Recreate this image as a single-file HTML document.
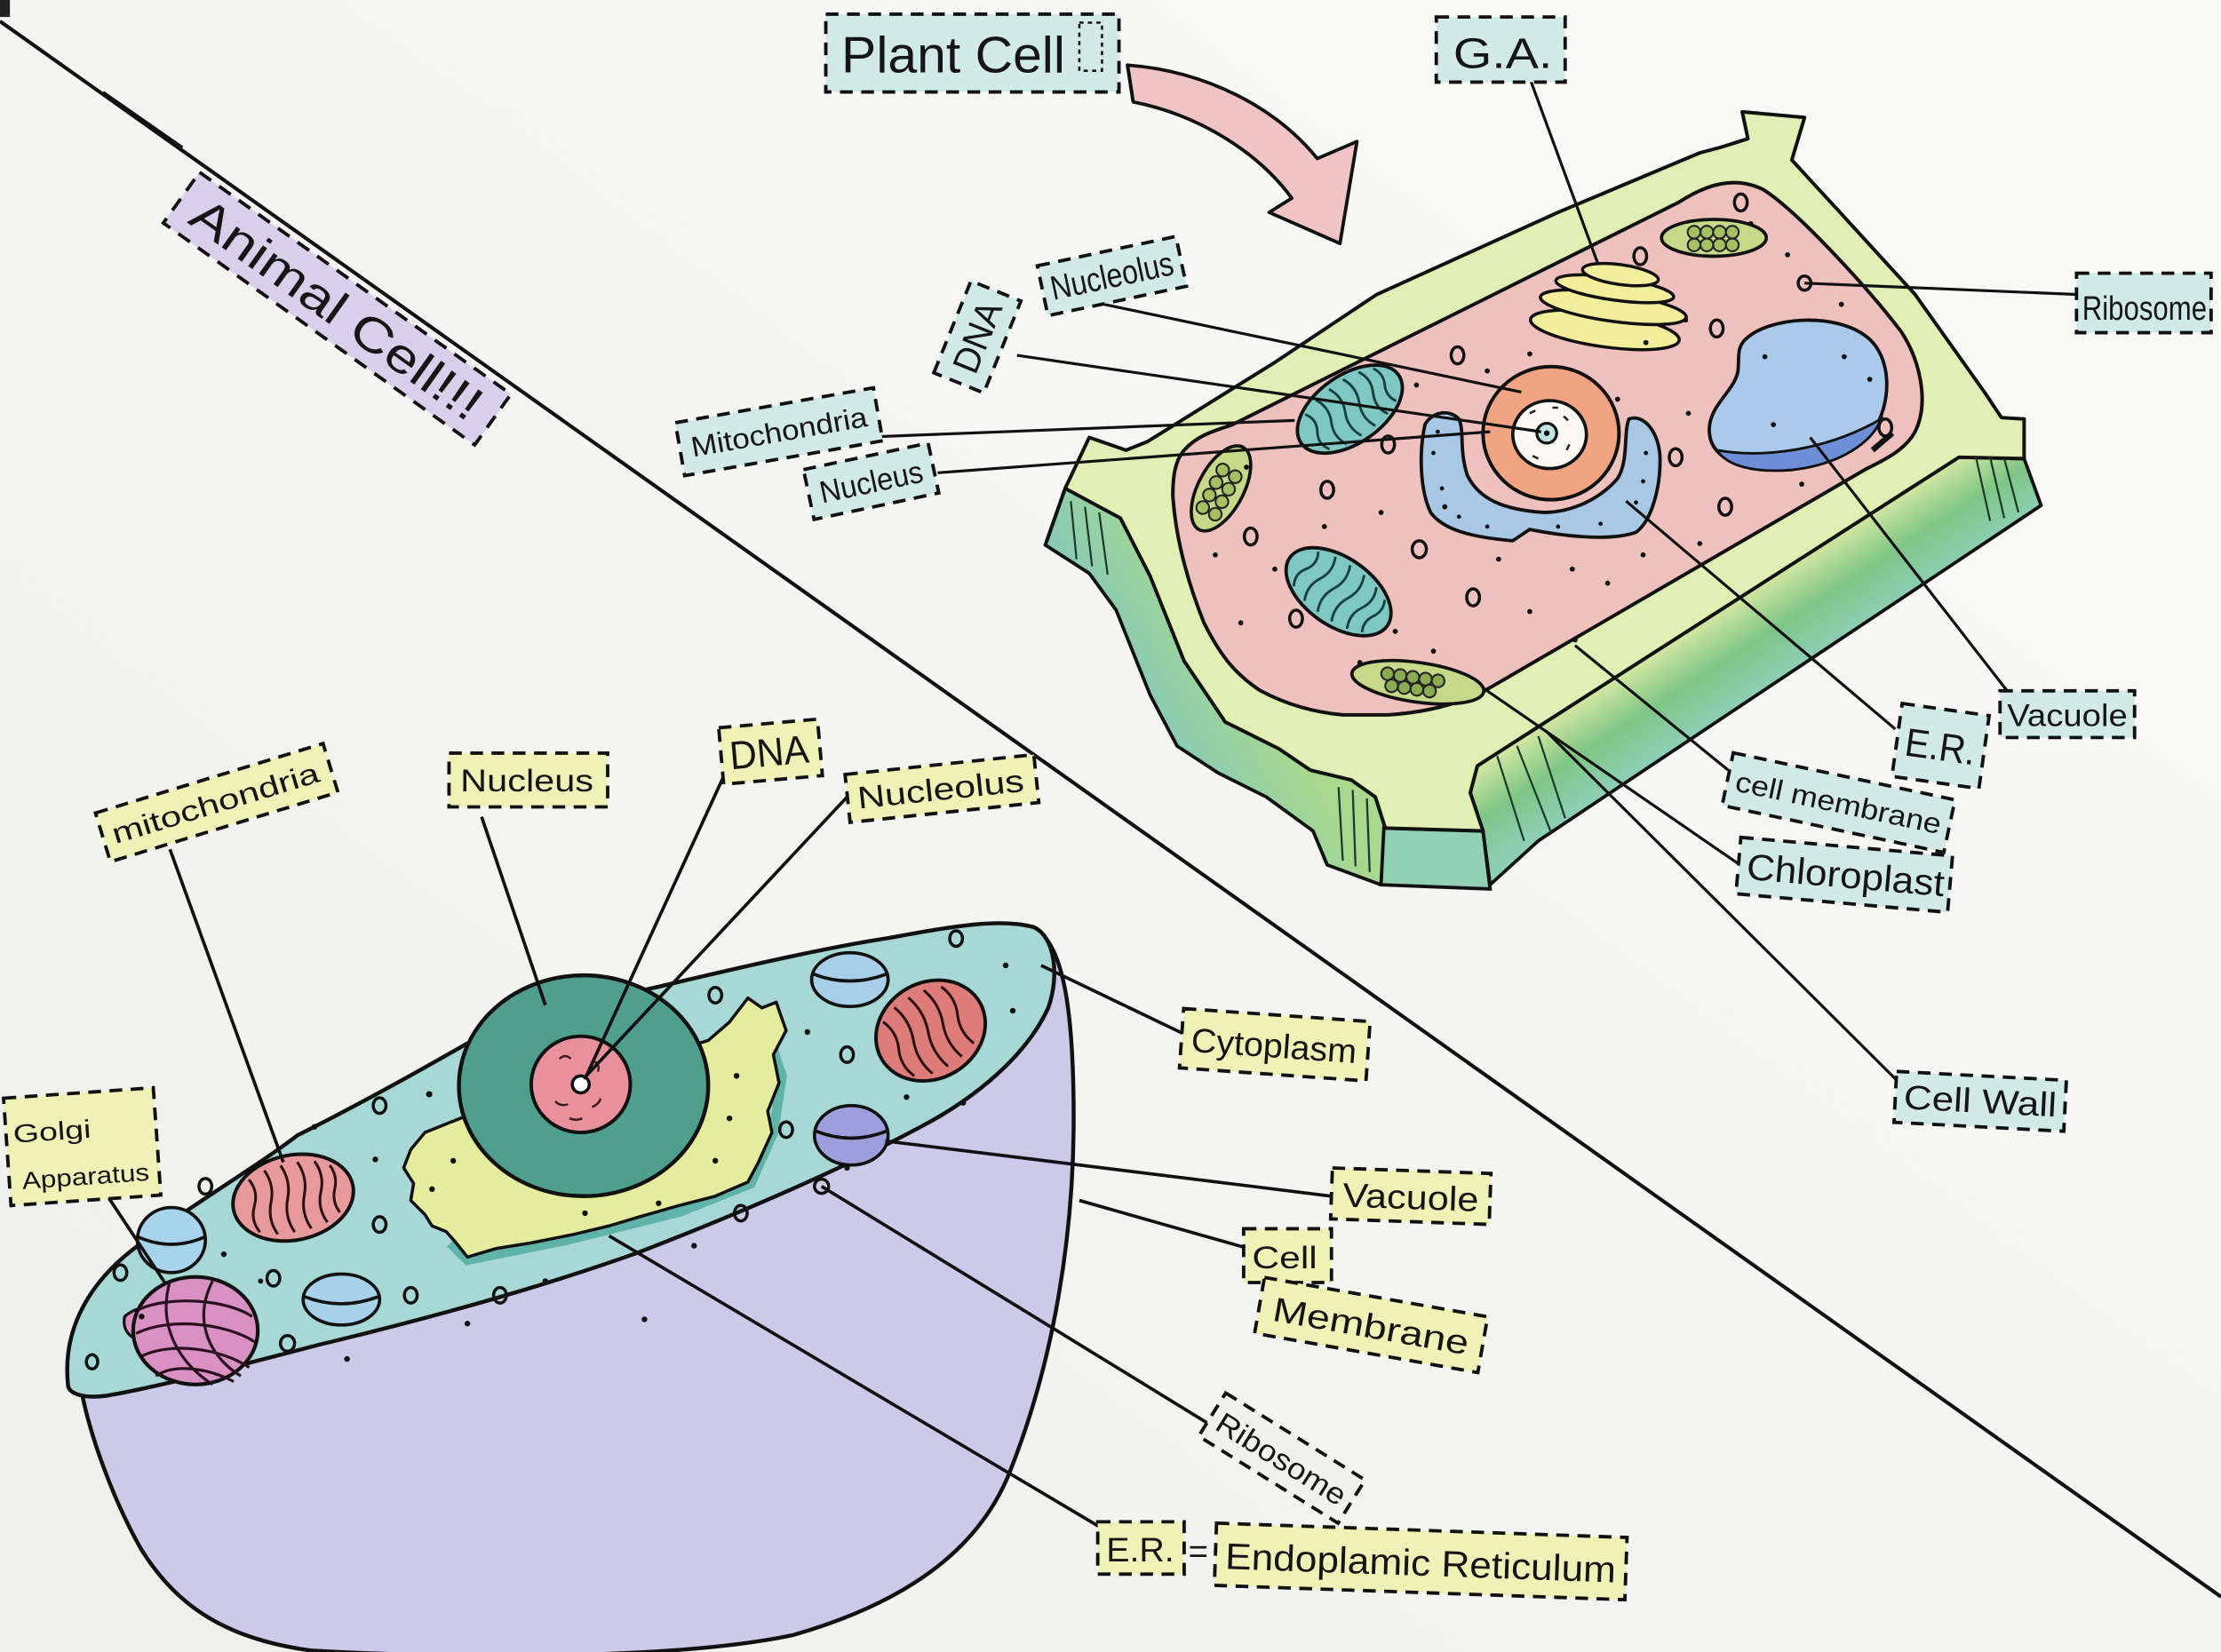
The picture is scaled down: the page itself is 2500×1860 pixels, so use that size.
<!DOCTYPE html>
<html><head><meta charset="utf-8"><style>
html,body{margin:0;padding:0;background:#f4f4f2;}
svg{display:block;}
text{font-family:"Liberation Sans","DejaVu Sans",sans-serif;fill:#151515;}
</style></head><body>
<svg width="2500" height="1860" viewBox="0 0 1568 1167" preserveAspectRatio="none" xmlns="http://www.w3.org/2000/svg">
<defs>
<linearGradient id="bg" x1="1" y1="0" x2="0" y2="1">
<stop offset="0" stop-color="#fafaf9"/><stop offset="1" stop-color="#efefec"/>
</linearGradient>
<linearGradient id="rf" gradientUnits="userSpaceOnUse" x1="1220" y1="427" x2="1255" y2="481">
<stop offset="0" stop-color="#d3e8a2"/><stop offset="0.5" stop-color="#7fc585"/><stop offset="1" stop-color="#8dcfb5"/>
</linearGradient>
<linearGradient id="lf" gradientUnits="userSpaceOnUse" x1="760" y1="420" x2="830" y2="380">
<stop offset="0" stop-color="#86c9b6"/><stop offset="1" stop-color="#a9d98f"/>
</linearGradient>
</defs>
<rect width="1568" height="1167" fill="url(#bg)"/>
<rect x="0" y="0" width="7" height="12" fill="#222"/>

<!-- diagonal divider -->
<line x1="0" y1="15" x2="1568" y2="1128" stroke="#111" stroke-width="2.6"/>
<line x1="73" y1="65" x2="129" y2="104" stroke="#111" stroke-width="1.6"/>

<!-- ================= PLANT CELL ================= -->
<path d="M 796,46 C 850,50 900,75 930,112 L 958,100 L 946,172 L 896,150 L 912,140 C 890,110 850,82 800,72 Z" fill="#f0c4c4" stroke="#111" stroke-width="2.4" stroke-linejoin="round"/>
<path d="M 796,46 L 800,72" stroke="#111" stroke-width="2.4"/>

<!-- left front face -->
<polygon points="752,345 791,366 812,407 836,467 865,510 903,529 925,544 954,551 971,563 978,585 975,625 937,611 927,587 894,563 860,546 831,527 812,491 788,431 769,405 738,385" fill="url(#lf)" stroke="#111" stroke-width="2.4" stroke-linejoin="round"/>
<!-- bottom box -->
<polygon points="977,585 1047,587 1052,628 975,625" fill="#92d0b4" stroke="#111" stroke-width="2.4"/>
<!-- right front face -->
<polygon points="1043,541 1057,532 1383,323 1429,324 1441,357 1086,594 1052,625 1047,587 1038,560" fill="url(#rf)" stroke="#111" stroke-width="2.4" stroke-linejoin="round"/>
<!-- top face -->
<path d="M 769,309 L 795,318 L 810,312 L 900,256 L 972,208 L 1100,150 L 1200,108 L 1215,104 L 1234,98 L 1230,79 L 1274,83 L 1265,113 L 1299,150 L 1352,208 L 1401,277 L 1413,295 L 1429,296 L 1429,324 L 1383,323 L 1057,532 L 1043,541 L 1038,560 L 1047,587 L 978,585 L 971,563 L 954,551 L 925,544 L 903,529 L 865,510 L 836,467 L 812,407 L 791,366 L 752,345 L 738,385 L 752,345 Z" fill="#e1eeb4" stroke="#111" stroke-width="2.5" stroke-linejoin="round"/>
<!-- stripes -->
<g stroke="#1a3a2a" stroke-width="1.4">
<line x1="1395" y1="323" x2="1405" y2="368"/><line x1="1405" y1="323" x2="1415" y2="366"/><line x1="1415" y1="324" x2="1425" y2="362"/>
<line x1="756" y1="354" x2="760" y2="395"/><line x1="766" y1="358" x2="771" y2="400"/><line x1="776" y1="362" x2="782" y2="406"/>
<line x1="945" y1="556" x2="948" y2="608"/><line x1="955" y1="558" x2="957" y2="612"/><line x1="965" y1="564" x2="967" y2="616"/>
<line x1="1057" y1="534" x2="1076" y2="594"/><line x1="1071" y1="527" x2="1095" y2="588"/><line x1="1086" y1="520" x2="1105" y2="578"/>
</g>

<!-- pink cytoplasm -->
<path d="M 836,318 C 845,308 855,305 870,300 L 1185,143 C 1205,130 1225,124 1245,134 C 1270,150 1320,205 1342,234 C 1356,255 1362,285 1352,305 C 1345,318 1330,325 1318,331 L 1055,484 C 1035,496 1010,503 980,505 L 948,505 C 925,503 905,496 890,488 C 870,475 860,460 850,440 C 838,410 830,380 828,350 C 828,335 830,325 836,318 Z" fill="#efc1be" stroke="#111" stroke-width="2.5"/>

<!-- golgi -->
<g fill="#f2ee9c" stroke="#111" stroke-width="2.2">
<ellipse cx="1133" cy="233" rx="53" ry="12" transform="rotate(8 1133 233)"/>
<ellipse cx="1139" cy="217" rx="52" ry="10" transform="rotate(8 1139 217)"/>
<ellipse cx="1140" cy="204" rx="42" ry="8" transform="rotate(8 1140 204)"/>
<ellipse cx="1144" cy="194" rx="27" ry="7" transform="rotate(8 1144 194)"/>
</g>

<!-- chloroplasts -->
<g transform="translate(1210,168)"><ellipse rx="37" ry="13" fill="#c6d98a" stroke="#111" stroke-width="2.3"/>
<g fill="#a4c062" stroke="#222" stroke-width="1.3"><circle cx="-14" cy="-4" r="4.5"/><circle cx="-5" cy="-4" r="4.5"/><circle cx="4" cy="-4" r="4.5"/><circle cx="13" cy="-4" r="4.5"/><circle cx="-14" cy="5" r="4.5"/><circle cx="-5" cy="5" r="4.5"/><circle cx="4" cy="5" r="4.5"/><circle cx="13" cy="5" r="4.5"/></g></g>
<g transform="translate(862,345) rotate(-62)"><ellipse rx="33" ry="16" fill="#c6d98a" stroke="#111" stroke-width="2.3"/>
<g fill="#a4c062" stroke="#222" stroke-width="1.3"><circle cx="-18" cy="-5" r="4.5"/><circle cx="-8" cy="-5" r="4.5"/><circle cx="2" cy="-5" r="4.5"/><circle cx="12" cy="-5" r="4.5"/><circle cx="-18" cy="5" r="4.5"/><circle cx="-8" cy="5" r="4.5"/><circle cx="2" cy="5" r="4.5"/><circle cx="12" cy="5" r="4.5"/></g></g>
<g transform="translate(1001,482) rotate(8)"><ellipse rx="47" ry="14" fill="#c6d98a" stroke="#111" stroke-width="2.3"/>
<g fill="#8aab52" stroke="#222" stroke-width="1.3"><circle cx="-22" cy="-3" r="4.5"/><circle cx="-13" cy="-3" r="4.5"/><circle cx="-4" cy="-3" r="4.5"/><circle cx="5" cy="-3" r="4.5"/><circle cx="14" cy="-3" r="4.5"/><circle cx="-18" cy="5" r="4.5"/><circle cx="-9" cy="5" r="4.5"/><circle cx="0" cy="5" r="4.5"/><circle cx="9" cy="5" r="4.5"/></g></g>

<!-- mitochondria plant -->
<g transform="translate(953,289) rotate(-35)"><ellipse rx="42" ry="24" fill="#7fc7c3" stroke="#111" stroke-width="2.4"/>
<path d="M -28,-15 q 5,7.5 0,15 q -5,7.5 0,15 M -16,-19 q 5,9.5 0,19 q -5,9.5 0,19 M -4,-20 q 5,10 0,20 q -5,10 0,20 M 8,-20 q 5,10 0,20 q -5,10 0,20 M 20,-18 q 5,9 0,18 q -5,9 0,18 M 30,-14 q 4,7 0,14 q -4,7 0,14" fill="none" stroke="#17403d" stroke-width="1.8"/></g>
<g transform="translate(945,418) rotate(35)"><ellipse rx="42" ry="24" fill="#7fc7c3" stroke="#111" stroke-width="2.4"/>
<path d="M -28,-15 q 5,7.5 0,15 q -5,7.5 0,15 M -16,-19 q 5,9.5 0,19 q -5,9.5 0,19 M -4,-20 q 5,10 0,20 q -5,10 0,20 M 8,-20 q 5,10 0,20 q -5,10 0,20 M 20,-18 q 5,9 0,18 q -5,9 0,18 M 30,-14 q 4,7 0,14 q -4,7 0,14" fill="none" stroke="#17403d" stroke-width="1.8"/></g>

<!-- vacuole plant -->
<path d="M 1232,240 C 1248,224 1295,220 1318,238 C 1336,252 1336,285 1322,305 C 1305,325 1270,332 1240,330 C 1215,328 1205,315 1207,300 C 1209,285 1225,275 1227,262 C 1228,252 1226,246 1232,240 Z" fill="#abc9ea" stroke="#111" stroke-width="2.4"/>
<path d="M 1212,318 C 1245,324 1290,318 1328,296 C 1322,312 1300,328 1265,332 C 1240,334 1220,330 1212,318 Z" fill="#6d8fd8" stroke="#111" stroke-width="1.8"/>
<line x1="1322" y1="318" x2="1336" y2="306" stroke="#111" stroke-width="4"/>

<!-- ER plant -->
<path d="M 1006,300 C 1010,292 1022,288 1030,296 C 1034,305 1030,318 1036,336 C 1044,352 1060,360 1090,362 C 1110,362 1130,352 1142,338 C 1150,325 1146,306 1150,296 C 1160,292 1172,305 1172,325 C 1172,345 1166,368 1155,376 C 1135,383 1100,378 1080,374 L 1068,382 C 1045,380 1020,376 1010,362 C 1002,345 1002,318 1006,300 Z" fill="#a9c8e5" stroke="#111" stroke-width="2.4"/>
<g fill="#111"><circle cx="1012" cy="320" r="1.5"/><circle cx="1018" cy="345" r="1.5"/><circle cx="1030" cy="365" r="1.5"/><circle cx="1050" cy="372" r="1.5"/><circle cx="1100" cy="372" r="1.5"/><circle cx="1130" cy="370" r="1.5"/><circle cx="1155" cy="355" r="1.5"/><circle cx="1162" cy="320" r="1.5"/><circle cx="1160" cy="340" r="1.5"/><circle cx="1015" cy="305" r="1.5"/></g>

<!-- nucleus plant -->
<ellipse cx="1095" cy="306" rx="48" ry="47" fill="#f0a482" stroke="#111" stroke-width="2.5"/>
<ellipse cx="1094" cy="307" rx="26" ry="24" fill="#fbfaf2" stroke="#111" stroke-width="2.3"/>
<path d="M 1080,292 l 4,-2 M 1104,294 l 3,3 M 1082,322 l 4,2 M 1106,318 l 2,-4 M 1096,288 l 4,0" stroke="#222" stroke-width="1.6"/>
<circle cx="1092" cy="306" r="7" fill="#bfe3e0" stroke="#111" stroke-width="2"/>
<circle cx="1092" cy="306" r="2" fill="#111"/>

<!-- plant circles and dots -->
<g fill="none" stroke="#111" stroke-width="2.2">
<ellipse cx="1229" cy="143" rx="4.5" ry="6"/><ellipse cx="1158" cy="181" rx="4.5" ry="6"/><ellipse cx="1029" cy="251" rx="4.5" ry="6"/><ellipse cx="1212" cy="232" rx="4.5" ry="6"/><ellipse cx="937" cy="346" rx="4.5" ry="6"/><ellipse cx="980" cy="314" rx="4.5" ry="6"/><ellipse cx="883" cy="379" rx="4.5" ry="6"/><ellipse cx="1002" cy="388" rx="5" ry="6"/><ellipse cx="1040" cy="422" rx="4.5" ry="6"/><ellipse cx="915" cy="437" rx="4.5" ry="6"/><ellipse cx="1183" cy="323" rx="4.5" ry="6"/><ellipse cx="1218" cy="358" rx="4.5" ry="6"/><ellipse cx="1331" cy="302" rx="4.5" ry="6"/><ellipse cx="1274" cy="200" rx="4.5" ry="5"/>
</g>
<g fill="#111">
<circle cx="1236" cy="158" r="1.8"/><circle cx="1262" cy="180" r="1.8"/><circle cx="1190" cy="226" r="1.8"/><circle cx="1162" cy="242" r="1.8"/><circle cx="1246" cy="252" r="1.8"/><circle cx="1300" cy="215" r="1.8"/><circle cx="1320" cy="268" r="1.8"/><circle cx="1050" cy="262" r="1.8"/><circle cx="1080" cy="250" r="1.8"/><circle cx="1000" cy="272" r="1.8"/><circle cx="880" cy="330" r="1.8"/><circle cx="858" cy="392" r="1.8"/><circle cx="900" cy="402" r="1.8"/><circle cx="975" cy="362" r="1.8"/><circle cx="1020" cy="358" r="1.8"/><circle cx="985" cy="446" r="1.8"/><circle cx="1080" cy="432" r="1.8"/><circle cx="1110" cy="402" r="1.8"/><circle cx="1135" cy="412" r="1.8"/><circle cx="1160" cy="392" r="1.8"/><circle cx="1200" cy="384" r="1.8"/><circle cx="1252" cy="300" r="1.8"/><circle cx="1272" cy="342" r="1.8"/><circle cx="960" cy="468" r="1.8"/><circle cx="1012" cy="460" r="1.8"/><circle cx="876" cy="440" r="1.8"/><circle cx="1112" cy="452" r="1.8"/><circle cx="1142" cy="282" r="1.8"/><circle cx="1192" cy="292" r="1.8"/><circle cx="1302" cy="252" r="1.8"/><circle cx="1058" cy="395" r="1.8"/><circle cx="935" cy="372" r="1.8"/>
</g>

<!-- plant leaders -->
<g stroke="#111" stroke-width="2" fill="none">
<line x1="1077" y1="47" x2="1128" y2="186"/>
<line x1="1274" y1="200" x2="1466" y2="208"/>
<line x1="770" y1="213" x2="1074" y2="277"/>
<line x1="718" y1="251" x2="1088" y2="305"/>
<line x1="554" y1="311" x2="914" y2="297"/>
<line x1="662" y1="334" x2="1052" y2="305"/>
<line x1="1148" y1="354" x2="1338" y2="515"/>
<line x1="1278" y1="309" x2="1417" y2="488"/>
<line x1="1112" y1="456" x2="1220" y2="544"/>
<line x1="1047" y1="486" x2="1227" y2="610"/>
<line x1="1091" y1="516" x2="1342" y2="766"/>
</g>

<!-- plant labels -->
<g stroke="#111" stroke-width="2.4" stroke-dasharray="9 6">
<rect x="583" y="10" width="207" height="55" fill="#d2eae6"/>
<rect x="1014" y="12" width="91" height="46" fill="#d2eae6"/>
<rect x="1466" y="193" width="95" height="42" fill="#d2eae6"/>
<rect x="1412" y="488" width="95" height="33" fill="#d2eae6"/>
</g>
<rect x="762" y="16" width="16" height="34" fill="none" stroke="#111" stroke-width="1.6" stroke-dasharray="3 3"/>
<text x="594" y="51" font-size="36" textLength="158" lengthAdjust="spacingAndGlyphs">Plant Cell</text>
<text x="1026" y="48" font-size="30" textLength="70" lengthAdjust="spacingAndGlyphs">G.A.</text>
<text x="1470" y="226" font-size="24" textLength="88" lengthAdjust="spacingAndGlyphs">Ribosome</text>
<text x="1417" y="513" font-size="22" textLength="85" lengthAdjust="spacingAndGlyphs">Vacuole</text>

<g transform="translate(785,195) rotate(-12)"><rect x="-50" y="-18" width="100" height="36" fill="#d2eae6" stroke="#111" stroke-width="2.4" stroke-dasharray="9 6"/><text x="-44" y="8" font-size="24" textLength="88" lengthAdjust="spacingAndGlyphs">Nucleolus</text></g>
<g transform="translate(690,238) rotate(-68)"><rect x="-35" y="-19" width="70" height="38" fill="#d2eae6" stroke="#111" stroke-width="2.4" stroke-dasharray="9 6"/><text x="-26" y="9" font-size="26" textLength="52" lengthAdjust="spacingAndGlyphs">DNA</text></g>
<g transform="translate(550,305) rotate(-10)"><rect x="-71" y="-19" width="142" height="38" fill="#d2eae6" stroke="#111" stroke-width="2.4" stroke-dasharray="9 6"/><text x="-63" y="7" font-size="20" textLength="126" lengthAdjust="spacingAndGlyphs">Mitochondria</text></g>
<g transform="translate(615,340) rotate(-12)"><rect x="-45" y="-18" width="90" height="36" fill="#d2eae6" stroke="#111" stroke-width="2.4" stroke-dasharray="9 6"/><text x="-37" y="8" font-size="22" textLength="74" lengthAdjust="spacingAndGlyphs">Nucleus</text></g>
<g transform="translate(1370,527) rotate(8)"><rect x="-31" y="-26" width="62" height="52" fill="#d2eae6" stroke="#111" stroke-width="2.4" stroke-dasharray="9 6"/><text x="-25" y="10" font-size="28" textLength="50" lengthAdjust="spacingAndGlyphs">E.R.</text></g>
<g transform="translate(1298,567) rotate(12)"><rect x="-80" y="-19" width="160" height="38" fill="#d2eae6" stroke="#111" stroke-width="2.4" stroke-dasharray="9 6"/><text x="-74" y="7" font-size="20" textLength="148" lengthAdjust="spacingAndGlyphs">cell membrane</text></g>
<g transform="translate(1302,618) rotate(5)"><rect x="-75" y="-20" width="150" height="40" fill="#d2eae6" stroke="#111" stroke-width="2.4" stroke-dasharray="9 6"/><text x="-69" y="9" font-size="26" textLength="140" lengthAdjust="spacingAndGlyphs">Chloroplast</text></g>
<g transform="translate(1398,778) rotate(3)"><rect x="-60" y="-18" width="120" height="36" fill="#d2eae6" stroke="#111" stroke-width="2.4" stroke-dasharray="9 6"/><text x="-54" y="8" font-size="24" textLength="108" lengthAdjust="spacingAndGlyphs">Cell Wall</text></g>

<!-- Animal cell title -->
<g transform="translate(238,218) rotate(35.5)"><rect x="-135" y="-22" width="270" height="44" fill="#d8cfea" stroke="#111" stroke-width="2.4" stroke-dasharray="10 7"/><text x="-122" y="12" font-size="34" textLength="244" lengthAdjust="spacingAndGlyphs">Animal Cell!!!</text></g>

<!-- ================= ANIMAL CELL ================= -->
<path d="M 735,659 C 752,675 758,720 758,790 C 758,870 745,960 712,1042 C 690,1095 640,1132 560,1155 C 480,1172 330,1172 220,1166 C 160,1158 125,1135 100,1095 C 80,1060 64,1015 58,985 L 48,978 Z" fill="#cdc9e8"/>
<path d="M 735,659 C 752,675 758,720 758,790 C 758,870 745,960 712,1042 C 690,1095 640,1132 560,1155 C 480,1172 330,1172 220,1166 C 160,1158 125,1135 100,1095 C 80,1060 64,1015 58,985" fill="none" stroke="#111" stroke-width="2.8"/>
<path d="M 48,978 C 44,940 62,905 100,878 C 140,848 180,825 210,802 C 250,782 290,760 330,737 C 380,715 430,705 465,697 C 520,684 580,670 625,663 C 670,655 705,648 730,655 C 745,662 748,690 740,712 C 725,745 690,775 650,796 C 590,828 520,858 450,885 C 380,910 300,932 225,950 C 160,967 110,980 75,986 C 60,988 48,985 48,978 Z" fill="#a7d8d6" stroke="#111" stroke-width="2.8"/>

<!-- ER animal -->
<path d="M 536,712 L 552,760 L 546,800 L 530,836 L 480,856 L 400,876 L 330,890 L 318,878" fill="none" stroke="#5fb3a8" stroke-width="7"/>
<path d="M 290,812 L 300,800 L 330,788 L 420,760 L 500,735 L 515,722 L 528,705 L 538,712 L 548,708 L 555,728 L 546,745 L 550,765 L 542,785 L 545,800 L 535,822 L 528,835 L 505,845 L 478,852 L 450,860 L 430,866 L 405,872 L 375,878 L 350,882 L 330,888 L 322,878 L 315,870 L 305,866 L 300,858 L 290,848 L 292,836 L 285,825 Z" fill="#e4ec9e" stroke="#111" stroke-width="2.2" stroke-linejoin="round"/>

<!-- nucleus animal -->
<ellipse cx="412" cy="767" rx="88" ry="78" fill="#4f9f8c" stroke="#111" stroke-width="2.8"/>
<ellipse cx="410" cy="766" rx="35" ry="34" fill="#e8919d" stroke="#111" stroke-width="2.5"/>
<path d="M 395,748 q 4,-4 8,0 M 420,750 q 4,3 2,7 M 392,778 q 4,4 9,2 M 418,782 q 5,-2 6,-6 M 402,790 q 5,2 9,0" fill="none" stroke="#3a1a20" stroke-width="1.5"/>
<circle cx="410" cy="766" r="6" fill="#fff" stroke="#111" stroke-width="2.2"/>

<!-- mitochondria animal -->
<g transform="translate(207,846) rotate(-12)"><ellipse rx="43" ry="30" fill="#e8999c" stroke="#111" stroke-width="2.5"/>
<path d="M -28,-19 q 5,9.5 0,19 q -5,9.5 0,19 M -16,-23 q 5,11.5 0,23 q -5,11.5 0,23 M -4,-24 q 5,12 0,24 q -5,12 0,24 M 8,-24 q 5,12 0,24 q -5,12 0,24 M 20,-22 q 5,11 0,22 q -5,11 0,22 M 30,-17 q 4,8.5 0,17 q -4,8.5 0,17" fill="none" stroke="#2a1010" stroke-width="1.9"/></g>
<g transform="translate(657,728) rotate(-30)"><ellipse rx="40" ry="34" fill="#de7c79" stroke="#111" stroke-width="2.5"/>
<path d="M -26,-22 q 5,11 0,22 q -5,11 0,22 M -14,-27 q 5,13.5 0,27 q -5,13.5 0,27 M -2,-28 q 5,14 0,28 q -5,14 0,28 M 10,-27 q 5,13.5 0,27 q -5,13.5 0,27 M 22,-23 q 5,11.5 0,23 q -5,11.5 0,23" fill="none" stroke="#2a1010" stroke-width="1.9"/></g>

<!-- vacuoles animal -->
<g stroke="#111" stroke-width="2.3">
<g transform="translate(600,692)"><ellipse rx="27" ry="19" fill="#a7cfea"/><path d="M -26,-4 Q 0,6 26,-4" fill="none"/></g>
<g transform="translate(601,802)"><ellipse rx="26" ry="21" fill="#9d9fdc"/><path d="M -25,-3 Q 0,7 25,-3" fill="none"/></g>
<g transform="translate(121,876)"><ellipse rx="24" ry="23" fill="#a7d3ec"/><path d="M -23,-2 Q 0,8 23,-2" fill="none"/></g>
<g transform="translate(241,918)"><ellipse rx="27" ry="18" fill="#a7d0ea"/><path d="M -26,-2 Q 0,8 26,-2" fill="none"/></g>
</g>

<!-- golgi animal -->
<path d="M 88,930 C 100,920 108,925 112,930 L 100,948 C 92,945 86,940 88,930 Z" fill="#d98fc2" stroke="#111" stroke-width="2"/>
<ellipse cx="138" cy="940" rx="44" ry="38" fill="#d990c2" stroke="#111" stroke-width="2.6"/>
<path d="M 98,925 C 120,915 160,918 178,930 M 96,942 C 120,930 160,935 180,948 M 100,958 C 120,948 155,952 176,966 M 110,972 C 125,962 150,968 165,976 M 120,905 C 110,940 130,965 150,978 M 150,905 C 135,935 150,960 170,972" fill="none" stroke="#2a1020" stroke-width="2"/>

<!-- animal circles and dots -->
<g fill="none" stroke="#111" stroke-width="2.2">
<ellipse cx="268" cy="781" rx="4.5" ry="5.5"/><ellipse cx="145" cy="838" rx="4.5" ry="5.5"/><ellipse cx="85" cy="899" rx="4.5" ry="5.5"/><ellipse cx="193" cy="903" rx="4.5" ry="5.5"/><ellipse cx="290" cy="915" rx="4.5" ry="5.5"/><ellipse cx="203" cy="949" rx="5" ry="5.5"/><ellipse cx="65" cy="962" rx="4" ry="5"/><ellipse cx="505" cy="703" rx="4.5" ry="5.5"/><ellipse cx="598" cy="745" rx="4.5" ry="5.5"/><ellipse cx="555" cy="798" rx="4.5" ry="5.5"/><ellipse cx="523" cy="857" rx="4.5" ry="5.5"/><ellipse cx="353" cy="915" rx="4.5" ry="5.5"/><ellipse cx="675" cy="663" rx="4.5" ry="5.5"/><ellipse cx="580" cy="838" rx="5" ry="5"/><ellipse cx="268" cy="865" rx="4.5" ry="5.5"/>
</g>
<g fill="#111">
<circle cx="303" cy="773" r="2.2"/><circle cx="222" cy="796" r="2"/><circle cx="265" cy="819" r="2"/><circle cx="158" cy="886" r="2"/><circle cx="245" cy="960" r="2"/><circle cx="455" cy="932" r="2"/><circle cx="413" cy="857" r="2"/><circle cx="570" cy="729" r="2"/><circle cx="710" cy="682" r="2"/><circle cx="715" cy="714" r="2"/><circle cx="680" cy="779" r="2"/><circle cx="598" cy="825" r="2"/><circle cx="100" cy="930" r="2"/><circle cx="330" cy="935" r="2"/><circle cx="385" cy="905" r="2"/><circle cx="490" cy="880" r="2"/><circle cx="520" cy="760" r="2"/><circle cx="640" cy="775" r="2"/><circle cx="305" cy="840" r="2"/><circle cx="465" cy="850" r="2"/><circle cx="515" cy="790" r="2"/><circle cx="505" cy="820" r="2"/><circle cx="320" cy="820" r="2"/><circle cx="184" cy="905" r="1.8"/>
</g>

<!-- animal leaders -->
<g stroke="#111" stroke-width="2.3" fill="none">
<line x1="120" y1="600" x2="200" y2="821"/>
<line x1="340" y1="577" x2="385" y2="710"/>
<line x1="512" y1="546" x2="414" y2="760"/>
<line x1="598" y1="563" x2="412" y2="762"/>
<line x1="70" y1="836" x2="117" y2="907"/>
<line x1="735" y1="682" x2="835" y2="730"/>
<line x1="625" y1="806" x2="940" y2="845"/>
<line x1="762" y1="848" x2="878" y2="881"/>
<line x1="580" y1="838" x2="852" y2="1005"/>
<line x1="430" y1="873" x2="777" y2="1079"/>
</g>

<!-- animal labels -->
<g transform="translate(153,567) rotate(-17)"><rect x="-84" y="-18" width="168" height="36" fill="#eef2b6" stroke="#111" stroke-width="2.4" stroke-dasharray="9 6"/><text x="-77" y="7" font-size="20" textLength="152" lengthAdjust="spacingAndGlyphs">mitochondria</text></g>
<g transform="translate(373,551)"><rect x="-56" y="-19" width="112" height="38" fill="#eef2b6" stroke="#111" stroke-width="2.4" stroke-dasharray="9 6"/><text x="-48" y="8" font-size="22" textLength="94" lengthAdjust="spacingAndGlyphs">Nucleus</text></g>
<g transform="translate(544,531) rotate(-5)"><rect x="-35" y="-20" width="70" height="40" fill="#eef2b6" stroke="#111" stroke-width="2.4" stroke-dasharray="9 6"/><text x="-29" y="10" font-size="28" textLength="56" lengthAdjust="spacingAndGlyphs">DNA</text></g>
<g transform="translate(665,557) rotate(-6)"><rect x="-67" y="-17" width="134" height="34" fill="#eef2b6" stroke="#111" stroke-width="2.4" stroke-dasharray="9 6"/><text x="-60" y="8" font-size="22" textLength="118" lengthAdjust="spacingAndGlyphs">Nucleolus</text></g>
<g transform="translate(58,810) rotate(-4)"><rect x="-53" y="-38" width="106" height="76" fill="#eef2b6" stroke="#111" stroke-width="2.4" stroke-dasharray="9 6"/><text x="-48" y="-6" font-size="18" textLength="55" lengthAdjust="spacingAndGlyphs">Golgi</text><text x="-44" y="27" font-size="17" textLength="90" lengthAdjust="spacingAndGlyphs">Apparatus</text></g>
<g transform="translate(900,738) rotate(4)"><rect x="-66" y="-21" width="132" height="42" fill="#eef2b6" stroke="#111" stroke-width="2.4" stroke-dasharray="9 6"/><text x="-59" y="9" font-size="24" textLength="117" lengthAdjust="spacingAndGlyphs">Cytoplasm</text></g>
<g transform="translate(996,845) rotate(2)"><rect x="-56" y="-18" width="112" height="36" fill="#eef2b6" stroke="#111" stroke-width="2.4" stroke-dasharray="9 6"/><text x="-48" y="9" font-size="24" textLength="96" lengthAdjust="spacingAndGlyphs">Vacuole</text></g>
<rect x="878" y="868" width="62" height="38" fill="#eef2b6" stroke="#111" stroke-width="2.4" stroke-dasharray="9 6"/>
<text x="884" y="896" font-size="22" textLength="46" lengthAdjust="spacingAndGlyphs">Cell</text>
<g transform="translate(968,936) rotate(10)"><rect x="-80" y="-20" width="160" height="40" fill="#eef2b6" stroke="#111" stroke-width="2.4" stroke-dasharray="9 6"/><text x="-70" y="9" font-size="24" textLength="140" lengthAdjust="spacingAndGlyphs">Membrane</text></g>
<g transform="translate(905,1030) rotate(32)"><rect x="-58" y="-18" width="116" height="36" fill="#f1f1ec" stroke="#111" stroke-width="2.4" stroke-dasharray="9 6"/><text x="-52" y="8" font-size="21" textLength="104" lengthAdjust="spacingAndGlyphs">Ribosome</text></g>
<rect x="775" y="1075" width="61" height="37" fill="#eef2b6" stroke="#111" stroke-width="2.4" stroke-dasharray="9 6"/>
<text x="781" y="1103" font-size="24" textLength="48" lengthAdjust="spacingAndGlyphs">E.R.</text>
<text x="839" y="1104" font-size="24">=</text>
<g transform="translate(1003,1103) rotate(2)"><rect x="-145" y="-22" width="290" height="44" fill="#eef2b6" stroke="#111" stroke-width="2.4" stroke-dasharray="9 6"/><text x="-138" y="10" font-size="26" textLength="276" lengthAdjust="spacingAndGlyphs">Endoplamic Reticulum</text></g>
</svg>
</body></html>
